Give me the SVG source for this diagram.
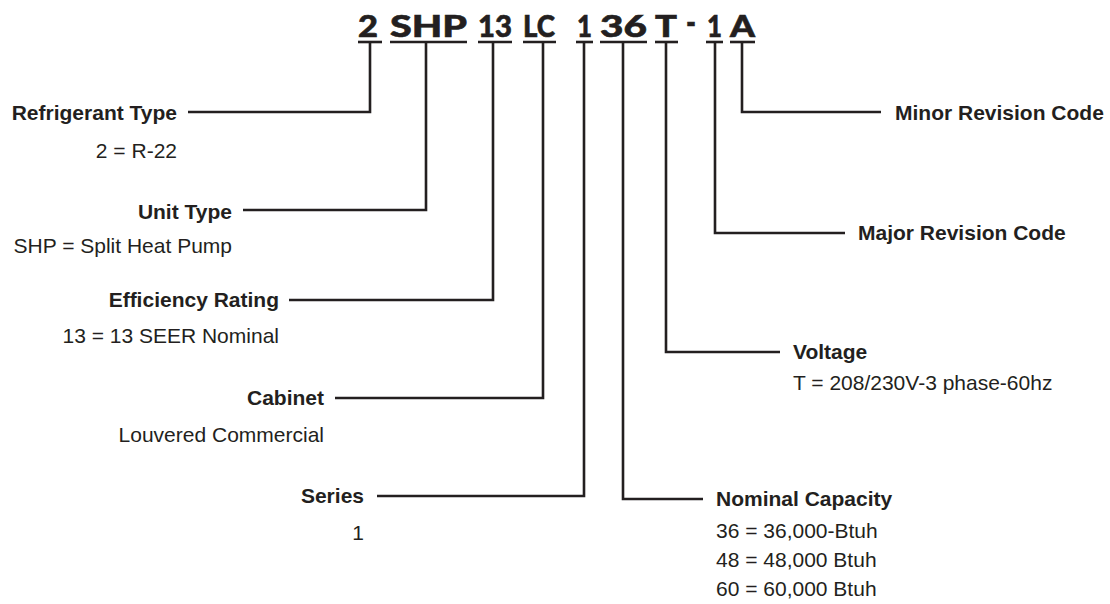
<svg xmlns="http://www.w3.org/2000/svg" width="1110" height="604" viewBox="0 0 1110 604">
<style>
.code{font-family:Lato,"DejaVu Sans",sans-serif;font-weight:900;font-size:31px;fill:#231f20;stroke:#231f20;stroke-width:0.6}
.lbl{font-family:"Liberation Sans",Arial,sans-serif;font-weight:bold;font-size:21px;fill:#231f20}
.desc{font-family:"Liberation Sans",Arial,sans-serif;font-size:21px;fill:#231f20}
.r{text-anchor:end}
.ln{fill:none;stroke:#231f20;stroke-width:2.6}
</style>
<rect width="1110" height="604" fill="#fff"/>
<g id="code">
<text class="code" x="358" y="37" textLength="20" lengthAdjust="spacingAndGlyphs">2</text>
<text class="code" x="390" y="37" textLength="77" lengthAdjust="spacingAndGlyphs">SHP</text>
<text class="code" x="478" y="37" textLength="34" lengthAdjust="spacingAndGlyphs">13</text>
<text class="code" x="523" y="37" textLength="32" lengthAdjust="spacingAndGlyphs">LC</text>
<text class="code" x="577" y="37" textLength="15" lengthAdjust="spacingAndGlyphs">1</text>
<text class="code" x="600" y="37" textLength="47" lengthAdjust="spacingAndGlyphs">36</text>
<text class="code" x="655" y="37" textLength="22" lengthAdjust="spacingAndGlyphs">T</text>
<text class="code" x="686" y="34" textLength="10" lengthAdjust="spacingAndGlyphs" style="font-size:34px">-</text>
<text class="code" x="707" y="37" textLength="15" lengthAdjust="spacingAndGlyphs">1</text>
<text class="code" x="730" y="37" textLength="25" lengthAdjust="spacingAndGlyphs">A</text>
<g class="ln">
<line x1="358" y1="42" x2="382" y2="42"/>
<line x1="390" y1="42" x2="467" y2="42"/>
<line x1="478" y1="42" x2="512" y2="42"/>
<line x1="523" y1="42" x2="556" y2="42"/>
<line x1="576" y1="42" x2="593" y2="42"/>
<line x1="600" y1="42" x2="647" y2="42"/>
<line x1="655" y1="42" x2="678" y2="42"/>
<line x1="706" y1="42" x2="723" y2="42"/>
<line x1="730" y1="42" x2="755" y2="42"/>
</g>
</g>
<g id="connectors" class="ln">
<polyline points="370,42 370,112 188,112"/>
<polyline points="426,42 426,210 243,210"/>
<polyline points="493,42 493,300 289,300"/>
<polyline points="543,42 543,398 335,398"/>
<polyline points="584,42 584,496 377,496"/>
<polyline points="623,42 623,499 703,499"/>
<polyline points="666,42 666,352 780,352"/>
<polyline points="715,42 715,233 845,233"/>
<polyline points="742,42 742,112 881,112"/>
</g>
<g id="refrigerant-type">
<text class="lbl r" x="177" y="120">Refrigerant Type</text>
<text class="desc r" x="177" y="158">2 = R-22</text>
</g>
<g id="unit-type">
<text class="lbl r" x="232" y="219">Unit Type</text>
<text class="desc r" x="232" y="253">SHP = Split Heat Pump</text>
</g>
<g id="efficiency-rating">
<text class="lbl r" x="279" y="307">Efficiency Rating</text>
<text class="desc r" x="279" y="343">13 = 13 SEER Nominal</text>
</g>
<g id="cabinet">
<text class="lbl r" x="324" y="405">Cabinet</text>
<text class="desc r" x="324" y="442">Louvered Commercial</text>
</g>
<g id="series">
<text class="lbl r" x="364" y="503">Series</text>
<text class="desc r" x="364" y="540">1</text>
</g>
<g id="nominal-capacity">
<text class="lbl" x="716" y="506">Nominal Capacity</text>
<text class="desc" x="716" y="538">36 = 36,000-Btuh</text>
<text class="desc" x="716" y="567">48 = 48,000 Btuh</text>
<text class="desc" x="716" y="596">60 = 60,000 Btuh</text>
</g>
<g id="voltage">
<text class="lbl" x="793" y="359">Voltage</text>
<text class="desc" x="793" y="390">T = 208/230V-3 phase-60hz</text>
</g>
<g id="major-revision">
<text class="lbl" x="858" y="240">Major Revision Code</text>
</g>
<g id="minor-revision">
<text class="lbl" x="895" y="120">Minor Revision Code</text>
</g>
</svg>
